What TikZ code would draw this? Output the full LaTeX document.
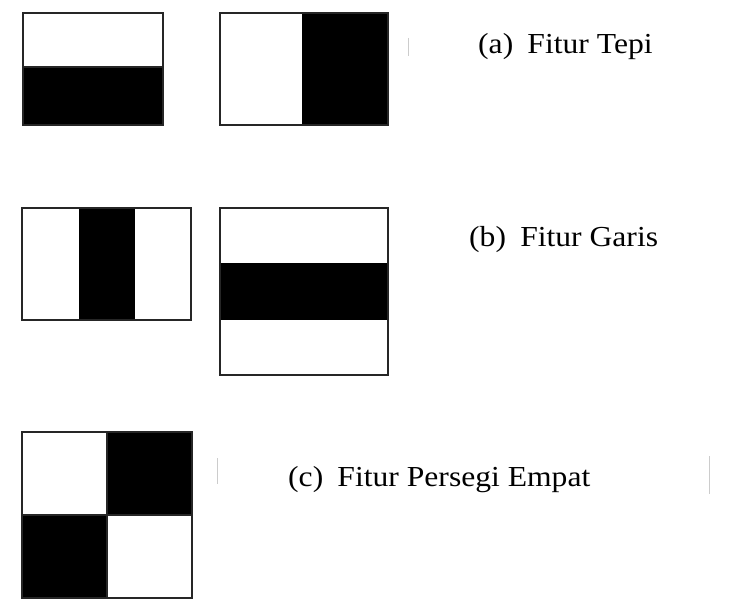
\documentclass[tikz,border=0pt]{standalone}
\usepackage{fontspec}
\usepackage{graphicx}
\setmainfont{Liberation Serif}
\begin{document}
\begin{tikzpicture}[x=1pt,y=-1pt,
  frame/.style={draw=black!85, line width=2.5pt},
  dark/.style={fill=black},
  caption/.style={anchor=base west, inner sep=0pt, font=\fontsize{29}{35}\selectfont},
  speck/.style={draw=black!20, line width=1pt}]
\useasboundingbox[fill=white] (0,0) rectangle (729,599);

% (a) edge features
\fill[dark] (23,67) rectangle (163,125);
\draw[frame] (23,13) rectangle (163,125);
\draw[frame] (23,67) -- (163,67);

\fill[dark] (302,13) rectangle (388,125);
\draw[frame] (220,13) rectangle (388,125);

% (b) line features
\fill[dark] (79,208) rectangle (135,320);
\draw[frame] (22,208) rectangle (191,320);

\fill[dark] (220,263) rectangle (388,320);
\draw[frame] (220,208) rectangle (388,375);

% (c) four-rectangle feature
\fill[dark] (107,432) rectangle (192,515);
\fill[dark] (22,515) rectangle (107,598);
\draw[frame] (22,432) rectangle (192,598);
\draw[frame] (22,515) -- (192,515);
\draw[frame] (107,432) -- (107,598);

% faint specks
\draw[speck] (217,458) -- (217,484);
\draw[speck] (709,456) -- (709,494);
\draw[speck] (408,38) -- (408,56);

% captions
\node[caption] (capa) at (478,54) {\scalebox{1.09}[1]{(a)\hspace{0.2em} Fitur Tepi}};
\node[caption] (capb) at (469,247) {\scalebox{1.09}[1]{(b)\hspace{0.2em} Fitur Garis}};
\node[caption] (capc) at (288,486) {\scalebox{1.09}[1]{(c)\hspace{0.2em} Fitur Persegi Empat}};
\end{tikzpicture}
\end{document}
